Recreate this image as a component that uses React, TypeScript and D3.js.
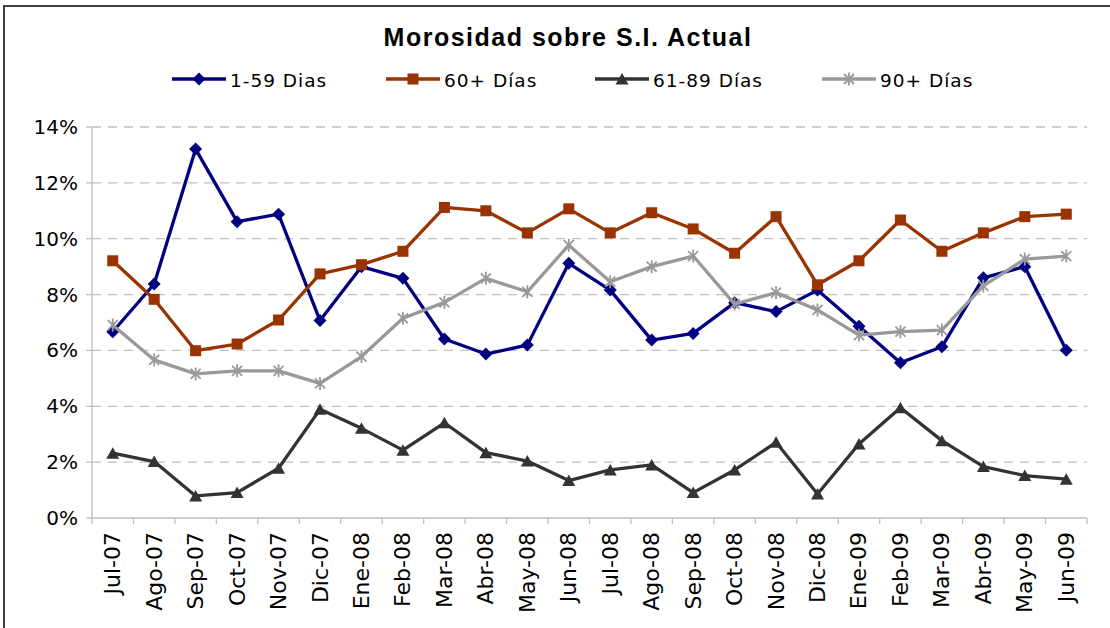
import React from "react";
import * as d3 from "d3";

const months = [
  "Jul-07", "Ago-07", "Sep-07", "Oct-07", "Nov-07", "Dic-07", "Ene-08", "Feb-08",
  "Mar-08", "Abr-08", "May-08", "Jun-08", "Jul-08", "Ago-08", "Sep-08", "Oct-08",
  "Nov-08", "Dic-08", "Ene-09", "Feb-09", "Mar-09", "Abr-09", "May-09", "Jun-09",
];
const dias1a59 = [6.67, 8.38, 13.21, 10.61, 10.88, 7.07, 9.0, 8.58, 6.41, 5.87, 6.19, 9.12, 8.16, 6.37, 6.61, 7.71, 7.39, 8.16, 6.87, 5.56, 6.13, 8.6, 9.0, 6.01];
const dias60 = [9.21, 7.83, 5.99, 6.23, 7.09, 8.74, 9.07, 9.55, 11.12, 11.0, 10.21, 11.07, 10.21, 10.93, 10.35, 9.48, 10.79, 8.35, 9.21, 10.67, 9.55, 10.21, 10.79, 10.88];
const dias61a89 = [2.32, 2.02, 0.79, 0.91, 1.78, 3.89, 3.21, 2.43, 3.41, 2.34, 2.04, 1.34, 1.72, 1.9, 0.91, 1.72, 2.71, 0.86, 2.65, 3.95, 2.77, 1.84, 1.52, 1.39];
const dias90 = [6.91, 5.66, 5.16, 5.27, 5.27, 4.82, 5.78, 7.15, 7.72, 8.58, 8.1, 9.77, 8.46, 9.0, 9.38, 7.66, 8.07, 7.45, 6.55, 6.67, 6.73, 8.31, 9.27, 9.38];
const yTicks = [0, 2, 4, 6, 8, 10, 12, 14];

const series = [
  { name: "1-59 Dias", values: dias1a59, color: "#000080", marker: "diamond" },
  { name: "60+ Días", values: dias60, color: "#993300", marker: "square" },
  { name: "61-89 Días", values: dias61a89, color: "#333333", marker: "triangle" },
  { name: "90+ Días", values: dias90, color: "#999999", marker: "star" },
];

const W = 1110;
const H = 628;
const margin = { top: 127, right: 23, bottom: 110, left: 92 };
const legendX = [172, 386, 595, 822];
const font = "'DejaVu Sans', Verdana, sans-serif";

const Marker = ({ type, color, x, y }) => {
  if (type === "diamond")
    return <path d="M0,-6.5L6.5,0L0,6.5L-6.5,0Z" transform={`translate(${x},${y})`} fill={color} />;
  if (type === "square")
    return <rect x={x - 5.5} y={y - 5.5} width={11} height={11} fill={color} />;
  if (type === "triangle")
    return <path d="M0,-6L6.5,5.5L-6.5,5.5Z" transform={`translate(${x},${y})`} fill={color} />;
  return (
    <path
      d="M-5,-5L5,5M-5,5L5,-5M0,-6.5L0,6.5"
      transform={`translate(${x},${y})`}
      stroke={color}
      strokeWidth={1.8}
      fill="none"
    />
  );
};

export default function App() {
  const x = d3.scaleBand().domain(months).range([margin.left, W - margin.right]);
  const y = d3.scaleLinear().domain([0, 14]).range([H - margin.bottom, margin.top]);
  const cx = (m) => x(m) + x.bandwidth() / 2;
  const line = d3
    .line<number>()
    .x((_, i) => cx(months[i]))
    .y((d) => y(d));

  const x0 = margin.left;
  const x1 = W - margin.right;
  const y0 = y(0);

  return (
    <div style={{ position: "absolute", left: 0, top: 0 }}>
      <svg width={W} height={H} style={{ display: "block", background: "#fff" }}>
        <rect x={4} y={6} width={W + 10} height={H + 10} fill="#fff" stroke="#404040" strokeWidth={2} />

        <text
          x={568}
          y={46}
          textAnchor="middle"
          fontFamily="'Liberation Sans', Arial, sans-serif"
          fontWeight="bold"
          fontSize={25}
          letterSpacing={1.5}
        >
          Morosidad sobre S.I. Actual
        </text>

        {series.map((s, i) => (
          <g key={s.name} transform={`translate(${legendX[i]},79)`}>
            <line x1={0} x2={54} y1={0} y2={0} stroke={s.color} strokeWidth={3.5} />
            <Marker type={s.marker} color={s.color} x={27} y={0} />
            <text x={58} y={7.5} fontFamily={font} fontSize={18.5} letterSpacing={1} fill="#000">
              {s.name}
            </text>
          </g>
        ))}

        {yTicks.map((t) => (
          <g key={t}>
            {t > 0 && (
              <line x1={x0} x2={x1} y1={y(t)} y2={y(t)} stroke="#c0c0c0" strokeWidth={1.3} strokeDasharray="9,7" />
            )}
            <line x1={x0 - 6} x2={x0} y1={y(t)} y2={y(t)} stroke="#bfbfbf" strokeWidth={1.3} />
            <text x={78} y={y(t)} textAnchor="end" dominantBaseline="central" fontFamily={font} fontSize={20} fill="#000">
              {t}%
            </text>
          </g>
        ))}

        <line x1={x0} x2={x0} y1={y(14)} y2={y0} stroke="#bfbfbf" strokeWidth={1.3} />
        <line x1={x0} x2={x1} y1={y0} y2={y0} stroke="#bfbfbf" strokeWidth={1.3} />
        {months.map((m) => (
          <line key={"t" + m} x1={x(m)} x2={x(m)} y1={y0} y2={y0 + 6} stroke="#bfbfbf" strokeWidth={1.3} />
        ))}
        <line x1={x1} x2={x1} y1={y0} y2={y0 + 6} stroke="#bfbfbf" strokeWidth={1.3} />

        {months.map((m) => (
          <text
            key={"l" + m}
            transform={`translate(${cx(m)},${y0 + 14}) rotate(-90)`}
            textAnchor="end"
            dominantBaseline="central"
            fontFamily={font}
            fontSize={22}
            fill="#000"
          >
            {m}
          </text>
        ))}

        {series.map((s) => (
          <g key={s.name}>
            <path d={line(s.values)} fill="none" stroke={s.color} strokeWidth={3.3} strokeLinejoin="round" />
            {s.values.map((v, i) => (
              <Marker key={i} type={s.marker} color={s.color} x={cx(months[i])} y={y(v)} />
            ))}
          </g>
        ))}
      </svg>
    </div>
  );
}
